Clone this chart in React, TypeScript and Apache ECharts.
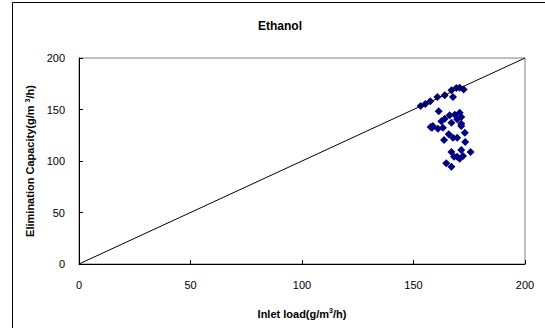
import React, { useEffect, useRef } from "react";
import * as echarts from "echarts";

const xTicks = [0, 50, 100, 150, 200];
const yTicks = [0, 50, 100, 150, 200];
const lineX = [0, 200];
const lineY = [0, 200];

const inletLoad = [
  153.2, 155.3, 157.5, 160.7, 164.0, 167.0, 169.2, 170.7, 172.5, 167.7,
  161.3, 166.2, 168.5, 170.7, 171.4, 164.0, 162.5, 158.7, 157.7, 167.0,
  171.4, 169.6, 158.3, 161.0, 163.2, 165.8, 167.7, 163.7, 169.6, 173.0,
  173.2, 167.0, 171.4, 175.6, 168.2, 170.7, 172.2, 169.6, 164.7, 167.0,
  171.4,
];
const eliminationCapacity = [
  153.4, 155.3, 158.0, 162.1, 163.8, 168.6, 170.9, 171.2, 169.5, 162.1,
  148.3, 144.4, 145.0, 146.9, 142.7, 141.1, 138.5, 134.0, 133.0, 137.2,
  136.2, 140.5, 132.3, 131.4, 132.3, 125.9, 122.6, 120.4, 122.6, 127.5,
  118.4, 108.7, 110.7, 108.7, 104.2, 102.2, 104.9, 104.2, 97.8, 94.5,
  134.0,
];

export default function App() {
  const ref = useRef<HTMLDivElement>(null);
  useEffect(() => {
    if (!ref.current) return;
    const chart = echarts.init(ref.current, undefined, { renderer: "svg" });
    const font = "'Liberation Sans', Arial, sans-serif";
    chart.setOption({
      animation: false,
      backgroundColor: "#ffffff",
      textStyle: { fontFamily: font },
      title: {
        text: "Ethanol",
        left: 275,
        top: 15,
        textAlign: "center",
        textStyle: { fontSize: 12, fontWeight: "bold", color: "#000", fontFamily: font },
      },
      graphic: [
        {
          type: "rect",
          shape: { x: 12.5, y: 2.5, width: 560, height: 340 },
          style: { fill: "none", stroke: "#000", lineWidth: 1 },
          silent: true,
          z: 10,
        },
      ],
      grid: {
        left: 79,
        top: 58,
        right: 20,
        bottom: 64,
        show: true,
        borderColor: "#808080",
        borderWidth: 1,
        backgroundColor: "#ffffff",
      },
      xAxis: {
        type: "value",
        min: xTicks[0],
        max: xTicks[xTicks.length - 1],
        interval: 50,
        name: "Inlet load(g/m{sup|3}/h)",
        nameLocation: "middle",
        nameGap: 43,
        nameTextStyle: {
          fontSize: 11,
          fontWeight: "bold",
          color: "#000",
          fontFamily: font,
          rich: {
            sup: { fontSize: 7, fontWeight: "bold", verticalAlign: "top", padding: [0, 0, 6, 0] },
          },
        },
        axisLine: { show: true, lineStyle: { color: "#000", width: 1 } },
        axisTick: { show: true, inside: true, length: 4, lineStyle: { color: "#000" } },
        axisLabel: { fontSize: 11, color: "#000", margin: 15, fontFamily: font },
        splitLine: { show: false },
      },
      yAxis: {
        type: "value",
        min: yTicks[0],
        max: yTicks[yTicks.length - 1],
        interval: 50,
        name: "Elimination Capacity(g/m {sup|3}/h)",
        nameLocation: "middle",
        nameGap: 34,
        nameRotate: 90,
        nameTextStyle: {
          fontSize: 11,
          fontWeight: "bold",
          color: "#000",
          fontFamily: font,
          rich: {
            sup: { fontSize: 7, fontWeight: "bold", padding: [0, 0, 6, 0] },
          },
        },
        axisLine: { show: true, lineStyle: { color: "#000", width: 1 } },
        axisTick: { show: true, inside: true, length: 4, lineStyle: { color: "#000" } },
        axisLabel: { fontSize: 11, color: "#000", margin: 14, fontFamily: font },
        splitLine: { show: false },
      },
      series: [
        {
          type: "line",
          data: lineX.map((x, i) => [x, lineY[i]]),
          showSymbol: false,
          symbol: "none",
          lineStyle: { color: "#000", width: 1 },
          z: 3,
        },
        {
          type: "scatter",
          data: inletLoad.map((x, i) => [x, eliminationCapacity[i]]),
          symbol: "diamond",
          symbolSize: 8,
          itemStyle: { color: "#000080", opacity: 1 },
          z: 2,
        },
      ],
    });
    return () => chart.dispose();
  }, []);
  return <div ref={ref} style={{ width: 545, height: 328, position: "absolute", left: 0, top: 0 }} />;
}
